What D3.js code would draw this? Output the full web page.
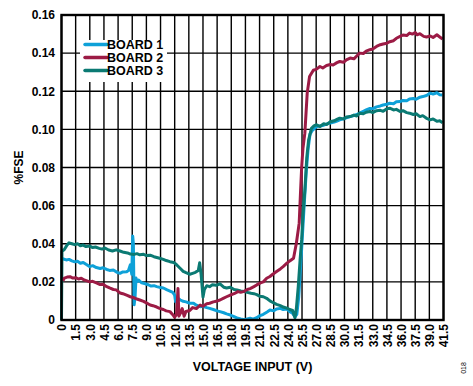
<!DOCTYPE html>
<html>
<head>
<meta charset="utf-8">
<script src="https://cdnjs.cloudflare.com/ajax/libs/d3/7.8.5/d3.min.js"></script>
<style>
    body { margin: 0; background: #fff; }
    text { font-family: Arial, 'Liberation Sans', sans-serif; font-weight: bold; fill: #000; }
</style>
</head>
<body>
<script>
// tick labels (last one is printed as 41.5 on the original)
let xTickValues = d3.range(0, 28).map(i => i * 1.5);
let xTickLabels = ['0', '1.5', '3.0', '4.5', '6.0', '7.5', '9.0', '10.5', '12.0', '13.5', '15.0', '16.5', '18.0', '19.5',
    '21.0', '22.5', '24.0', '25.5', '27.0', '28.5', '30.0', '31.5', '33.0', '34.5', '36.0', '37.5', '39.0', '41.5'];
let yTickValues = [0, 0.02, 0.04, 0.06, 0.08, 0.10, 0.12, 0.14, 0.16];
let yTickLabels = ['0', '0.02', '0.04', '0.06', '0.08', '0.10', '0.12', '0.14', '0.16'];

let seriesNames = ['BOARD 1', 'BOARD 2', 'BOARD 3'];
let seriesColors = ['#0ea1d8', '#9c1b45', '#0b7a73'];

let board1V = [0, 0.2, 0.5, 0.8, 1.1, 1.4, 1.7, 2.0, 2.3, 2.6, 3.0, 3.3, 3.7, 4.1, 4.4, 4.8, 5.1, 5.5, 5.9, 6.2, 6.5, 6.9, 7.1, 7.3, 7.45, 7.55, 7.62, 7.7, 7.8, 7.9, 8.0, 8.15, 8.5, 8.9, 9.2, 9.5, 9.8, 10.1, 10.5, 10.8, 11.2, 11.5, 11.8, 12.0, 12.1, 12.3, 12.6, 12.9, 13.2, 13.6, 14.0, 14.3, 14.7, 15.0, 15.4, 15.7, 16.1, 16.5, 16.8, 17.2, 17.5, 17.9, 18.3, 18.7, 19.0, 19.4, 19.7, 20.0, 20.3, 20.7, 21.0, 21.4, 21.8, 22.1, 22.5, 22.8, 23.2, 23.5, 23.9, 24.2, 24.5, 24.75, 24.95, 25.15, 25.35, 25.55, 25.75, 25.95, 26.15, 26.35, 26.6, 26.9, 27.05, 27.4, 27.8, 28.1, 28.5, 28.9, 29.2, 29.5, 29.9, 30.2, 30.6, 31.0, 31.3, 31.6, 32.0, 32.3, 32.7, 33.0, 33.4, 33.8, 34.1, 34.5, 34.8, 35.2, 35.5, 35.9, 36.2, 36.6, 36.9, 37.3, 37.6, 38.0, 38.3, 38.7, 39.1, 39.4, 39.8, 40.1, 40.4];
let board1Fse = [0.0325, 0.032, 0.0315, 0.0318, 0.031, 0.0305, 0.0308, 0.0298, 0.0302, 0.0292, 0.028, 0.0285, 0.0275, 0.027, 0.0274, 0.0265, 0.026, 0.0262, 0.025, 0.0245, 0.0252, 0.0253, 0.026, 0.029, 0.024, 0.044, 0.040, 0.008, 0.012, 0.022, 0.020, 0.021, 0.0195, 0.019, 0.0185, 0.0178, 0.018, 0.0175, 0.017, 0.0168, 0.0158, 0.0152, 0.0145, 0.013, 0.0096, 0.0115, 0.0105, 0.0098, 0.0095, 0.0088, 0.0088, 0.0078, 0.007, 0.0072, 0.0065, 0.0061, 0.0055, 0.0048, 0.0044, 0.0038, 0.0032, 0.0026, 0.0018, 0.0009, 0.0005, 0.0002, 0.0006, 0.0009, 0.0004, 0.0012, 0.0022, 0.003, 0.0042, 0.0052, 0.0048, 0.0058, 0.0061, 0.0055, 0.0058, 0.0044, 0.0035, 0.0017, 0.003, 0.012, 0.028, 0.045, 0.062, 0.078, 0.09, 0.0975, 0.0995, 0.1008, 0.1015, 0.1018, 0.1022, 0.1028, 0.1033, 0.1038, 0.1044, 0.105, 0.1055, 0.106, 0.1067, 0.1072, 0.1078, 0.1085, 0.1095, 0.1102, 0.111, 0.1108, 0.1118, 0.1123, 0.1128, 0.1132, 0.1137, 0.1135, 0.1145, 0.1146, 0.1152, 0.115, 0.1159, 0.1162, 0.1158, 0.1169, 0.1172, 0.1178, 0.119, 0.1185, 0.1192, 0.1182, 0.118];

let board2V = [0.15, 0.3, 0.6, 0.9, 1.2, 1.5, 1.8, 2.1, 2.4, 2.7, 3.0, 3.3, 3.7, 4.1, 4.4, 4.8, 5.1, 5.5, 5.8, 6.2, 6.5, 6.9, 7.3, 7.6, 8.0, 8.3, 8.7, 9.0, 9.4, 9.7, 10.1, 10.4, 10.8, 11.1, 11.5, 11.8, 12.0, 12.2, 12.35, 12.45, 12.6, 12.8, 13.0, 13.2, 13.6, 13.9, 14.3, 14.7, 15.0, 15.4, 15.7, 16.1, 16.4, 16.8, 17.2, 17.5, 17.9, 18.3, 18.7, 19.0, 19.3, 19.7, 20.0, 20.4, 20.7, 21.1, 21.4, 21.75, 22.1, 22.4, 22.8, 23.2, 23.5, 23.9, 24.2, 24.6, 24.9, 25.2, 25.35, 25.46, 25.6, 25.8, 26.05, 26.3, 26.7, 27.0, 27.4, 27.7, 28.1, 28.5, 28.8, 29.2, 29.5, 29.9, 30.2, 30.6, 31.0, 31.3, 31.6, 32.0, 32.3, 32.7, 33.0, 33.4, 33.8, 34.1, 34.5, 34.8, 35.2, 35.5, 35.9, 36.2, 36.6, 36.9, 37.2, 37.5, 37.7, 38.0, 38.4, 38.7, 39.1, 39.4, 39.8, 40.1, 40.4];
let board2Fse = [0.0205, 0.022, 0.0225, 0.0227, 0.022, 0.0222, 0.0215, 0.0219, 0.021, 0.0205, 0.020, 0.0203, 0.0195, 0.0186, 0.0188, 0.0175, 0.0168, 0.016, 0.0158, 0.0142, 0.0138, 0.013, 0.0122, 0.0118, 0.011, 0.0105, 0.0098, 0.009, 0.0079, 0.0075, 0.0068, 0.0061, 0.0055, 0.0048, 0.0044, 0.0028, 0.0014, 0.003, 0.0165, 0.002, 0.0035, 0.006, 0.002, 0.0045, 0.005, 0.0065, 0.006, 0.0078, 0.0072, 0.0085, 0.0088, 0.0095, 0.0098, 0.0105, 0.0115, 0.0122, 0.0131, 0.0138, 0.0149, 0.0146, 0.0149, 0.016, 0.0165, 0.0175, 0.0184, 0.0195, 0.020, 0.0219, 0.0228, 0.024, 0.0254, 0.0268, 0.028, 0.0298, 0.031, 0.0324, 0.0403, 0.0508, 0.068, 0.080, 0.090, 0.098, 0.119, 0.1277, 0.131, 0.1315, 0.133, 0.1322, 0.1335, 0.134, 0.1338, 0.135, 0.1356, 0.1352, 0.1365, 0.1374, 0.137, 0.1385, 0.140, 0.1398, 0.141, 0.1418, 0.1422, 0.1435, 0.1444, 0.1448, 0.1452, 0.146, 0.1465, 0.1478, 0.1488, 0.1495, 0.1492, 0.1505, 0.150, 0.1508, 0.1496, 0.1502, 0.1488, 0.1485, 0.149, 0.1482, 0.1496, 0.1485, 0.1474];

let board3V = [0, 0.05, 0.3, 0.55, 0.8, 1.1, 1.4, 1.7, 2.0, 2.3, 2.6, 3.0, 3.3, 3.6, 4.0, 4.3, 4.6, 5.0, 5.4, 5.8, 6.2, 6.6, 7.0, 7.3, 7.7, 8.0, 8.3, 8.7, 9.0, 9.4, 9.8, 10.1, 10.4, 10.8, 11.1, 11.5, 11.9, 12.2, 12.6, 12.9, 13.2, 13.6, 13.9, 14.2, 14.5, 14.65, 14.8, 15.0, 15.15, 15.4, 15.7, 16.0, 16.4, 16.8, 17.2, 17.5, 17.9, 18.3, 18.6, 19.0, 19.3, 19.7, 20.1, 20.4, 20.7, 21.0, 21.4, 21.75, 22.1, 22.4, 22.8, 23.2, 23.5, 23.9, 24.2, 24.5, 24.75, 24.9, 25.1, 25.3, 25.46, 25.6, 25.8, 26.0, 26.2, 26.5, 26.8, 27.05, 27.4, 27.8, 28.1, 28.5, 28.9, 29.2, 29.5, 29.9, 30.2, 30.6, 31.0, 31.3, 31.6, 32.0, 32.3, 32.7, 33.0, 33.4, 33.8, 34.1, 34.5, 34.8, 35.2, 35.5, 35.9, 36.2, 36.6, 36.9, 37.3, 37.6, 38.0, 38.3, 38.7, 39.1, 39.4, 39.8, 40.1, 40.4];
let board3Fse = [0.000, 0.036, 0.037, 0.039, 0.0405, 0.040, 0.0395, 0.040, 0.039, 0.0393, 0.0385, 0.0388, 0.038, 0.0383, 0.0376, 0.0372, 0.0378, 0.0367, 0.0362, 0.0368, 0.0362, 0.0355, 0.0352, 0.0346, 0.0344, 0.0348, 0.0342, 0.0345, 0.0338, 0.034, 0.0332, 0.0328, 0.0324, 0.0318, 0.0312, 0.0306, 0.0302, 0.029, 0.027, 0.0255, 0.0248, 0.024, 0.0245, 0.025, 0.026, 0.030, 0.024, 0.012, 0.016, 0.018, 0.0175, 0.0185, 0.0182, 0.019, 0.0172, 0.0168, 0.0172, 0.016, 0.0158, 0.0152, 0.015, 0.0145, 0.014, 0.0138, 0.0133, 0.0125, 0.0122, 0.0114, 0.010, 0.0092, 0.0082, 0.0075, 0.0068, 0.0062, 0.0055, 0.005, 0.0012, 0.006, 0.0175, 0.032, 0.042, 0.055, 0.068, 0.085, 0.0945, 0.1005, 0.102, 0.1024, 0.1015, 0.103, 0.1025, 0.104, 0.1045, 0.1052, 0.1059, 0.1055, 0.1065, 0.1067, 0.1075, 0.107, 0.1085, 0.1082, 0.109, 0.1094, 0.1088, 0.1098, 0.110, 0.1095, 0.1108, 0.1111, 0.1102, 0.1105, 0.1094, 0.1098, 0.1088, 0.1085, 0.1078, 0.1082, 0.1067, 0.1072, 0.1058, 0.105, 0.1055, 0.1042, 0.1045, 0.1035];

let boardVolts = [board1V, board2V, board3V];
let boardValues = [board1Fse, board2Fse, board3Fse];

let margin = { top: 15, right: 29.5, bottom: 66, left: 61.5 },
    width = 473 - margin.left - margin.right,
    height = 386 - margin.top - margin.bottom;

let x = d3.scaleLinear().domain([0, 40.5]).range([0, width]),
    y = d3.scaleLinear().domain([0, 0.16]).range([height, 0]);

let svg = d3.select('body')
            .append('svg').attr('width', 473).attr('height', 386)
            .append('g').attr('transform', `translate(${margin.left}, ${margin.top})`);

// grid
svg.append('g').selectAll('line.v').data(xTickValues).enter()
   .append('line').attr('x1', d => x(d)).attr('x2', d => x(d))
   .attr('y1', 0).attr('y2', height)
   .attr('stroke', '#000').attr('stroke-width', 1.4);

svg.append('g').selectAll('line.h').data(yTickValues).enter()
   .append('line').attr('x1', 0).attr('x2', width)
   .attr('y1', d => y(d)).attr('y2', d => y(d))
   .attr('stroke', '#000').attr('stroke-width', 1.4);

// legend box knocks out the grid
let legend = svg.append('g').attr('transform', 'translate(18.5, 25)');
legend.append('rect').attr('x', 0).attr('y', 0).attr('width', 87).attr('height', 42).attr('fill', '#fff');
seriesNames.forEach((name, i) => {
    let row = legend.append('g').attr('transform', `translate(0, ${4.5 + i * 13})`);
    row.append('line').attr('x1', 5).attr('x2', 27).attr('y1', 0).attr('y2', 0)
       .attr('stroke', seriesColors[i]).attr('stroke-width', 3.5).attr('stroke-linecap', 'round');
    row.append('text').attr('x', 27).attr('y', 0).attr('dy', '0.36em')
       .style('font-size', '12.5px').text(name);
});

// traces
let valueLine = d3.line()
                  .x(d => x(d[0]))
                  .y(d => y(d[1]));

let plot = svg.append('g');
[0, 2, 1].forEach(i => {
    let pts = boardVolts[i].map((v, j) => [v, boardValues[i][j]]);
    plot.append('path').attr('d', valueLine(pts))
        .attr('fill', 'none').attr('stroke', seriesColors[i])
        .attr('stroke-width', 3).attr('stroke-linejoin', 'round');
});

// frame
svg.append('rect').attr('width', width).attr('height', height)
   .attr('fill', 'none').attr('stroke', '#000').attr('stroke-width', 2.4);

// axes
let xAxis = d3.axisBottom(x).tickValues(xTickValues).tickSize(0).tickFormat((d, i) => xTickLabels[i]),
    yAxis = d3.axisLeft(y).tickValues(yTickValues).tickSize(0).tickFormat((d, i) => yTickLabels[i]);

let gx = svg.append('g').attr('transform', `translate(0, ${height})`).call(xAxis);
gx.select('.domain').remove();
gx.selectAll('text')
  .attr('transform', 'rotate(-90)')
  .attr('x', -4).attr('y', 0).attr('dy', '0.36em')
  .style('text-anchor', 'end')
  .style('font-size', '12px').style('font-family', 'Arial, Liberation Sans, sans-serif').style('font-weight', 'bold');

let gy = svg.append('g').call(yAxis);
gy.select('.domain').remove();
gy.selectAll('text').attr('x', -6.5)
  .style('font-size', '12px').style('font-family', 'Arial, Liberation Sans, sans-serif').style('font-weight', 'bold');

// titles
svg.append('text').attr('x', width / 2).attr('y', 356)
   .attr('text-anchor', 'middle').style('font-size', '12.5px').text('VOLTAGE INPUT (V)');

svg.append('text').attr('transform', `translate(-39, ${height / 2}) rotate(-90)`)
   .attr('text-anchor', 'middle').style('font-size', '12px').text('%FSE');

svg.append('text').attr('transform', `translate(${width + 22}, 353) rotate(-90)`)
   .attr('text-anchor', 'middle').style('font-size', '7px').style('font-weight', 'normal').text('018');
</script>
</body>
</html>
